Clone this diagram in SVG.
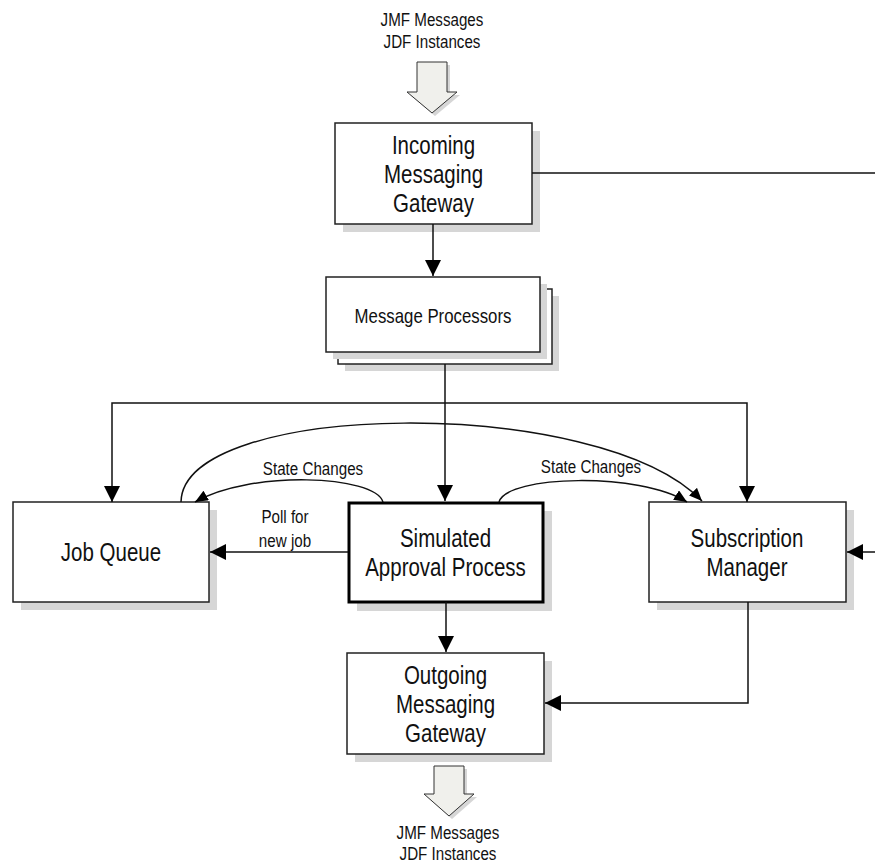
<svg xmlns="http://www.w3.org/2000/svg" width="875" height="864" viewBox="0 0 875 864">
  <defs>
    <marker id="arrow" markerUnits="userSpaceOnUse" viewBox="0 0 16 16" refX="16" refY="8" markerWidth="16" markerHeight="16" orient="auto">
      <path d="M0,0 L16,8 L0,16 z" fill="#000"/>
    </marker>
    <marker id="arrow-small" markerUnits="userSpaceOnUse" viewBox="0 0 13 11" refX="13" refY="5.5" markerWidth="13" markerHeight="11" orient="auto">
      <path d="M0,0 L13,5.5 L0,11 z" fill="#000"/>
    </marker>
  </defs>
  <style>
    .box { fill: #fff; stroke: #222; stroke-width: 1.5; }
    .box-bold { fill: #fff; stroke: #000; stroke-width: 3; }
    .shadow { fill: #d6d6d6; }
    .wire { fill: none; stroke: #111; stroke-width: 1.5; }
    .block { fill: #f0f0ec; stroke: #333; stroke-width: 1; }
    text { font-family: "Liberation Sans", Arial, sans-serif; fill: #111; text-anchor: middle; }
    .node-text { font-size: 25px; }
    .mp-text { font-size: 20.5px; }
    .label { font-size: 18.5px; }
  </style>

  <!-- inbound messages (text is condensed horizontally to a narrow face) -->
  <g id="inbound">
    <text class="label" transform="translate(432,26) scale(0.82,1)">JMF Messages</text>
    <text class="label" transform="translate(432,48) scale(0.82,1)">JDF Instances</text>
    <path class="shadow" d="M420,65 H450 V95 H460 L435,116 L410,95 H420 z"/>
    <path class="block" d="M417,62 H447 V92 H457 L432,113 L407,92 H417 z"/>
  </g>

  <g id="incoming-gateway">
    <rect class="shadow" x="343" y="131" width="197" height="101"/>
    <rect class="box" x="335" y="123" width="197" height="101"/>
    <text class="node-text" transform="translate(433.5,154) scale(0.82,1)">Incoming</text>
    <text class="node-text" transform="translate(433.5,183) scale(0.82,1)">Messaging</text>
    <text class="node-text" transform="translate(433.5,212) scale(0.82,1)">Gateway</text>
  </g>

  <g id="message-processors">
    <rect class="shadow" x="345" y="296" width="214" height="75"/>
    <rect class="box" x="338" y="289" width="214" height="75"/>
    <rect class="shadow" x="333" y="284" width="214" height="75"/>
    <rect class="box" x="326" y="277" width="214" height="75"/>
    <text class="mp-text" transform="translate(433,323) scale(0.82,1)">Message Processors</text>
  </g>

  <g id="job-queue">
    <rect class="shadow" x="21" y="510" width="196" height="100"/>
    <rect class="box" x="13" y="502" width="196" height="100"/>
    <text class="node-text" transform="translate(111,561) scale(0.82,1)">Job Queue</text>
  </g>

  <g id="simulated-approval">
    <rect class="shadow" x="357" y="511" width="195" height="100"/>
    <rect class="box-bold" x="349" y="503" width="194" height="99"/>
    <text class="node-text" transform="translate(445.5,547) scale(0.82,1)">Simulated</text>
    <text class="node-text" transform="translate(445.5,576) scale(0.82,1)">Approval Process</text>
  </g>

  <g id="subscription-manager">
    <rect class="shadow" x="657" y="510" width="197" height="100"/>
    <rect class="box" x="649" y="502" width="197" height="100"/>
    <text class="node-text" transform="translate(747,547) scale(0.82,1)">Subscription</text>
    <text class="node-text" transform="translate(747,576) scale(0.82,1)">Manager</text>
  </g>

  <g id="outgoing-gateway">
    <rect class="shadow" x="355" y="661" width="197" height="101"/>
    <rect class="box" x="347" y="653" width="197" height="101"/>
    <text class="node-text" transform="translate(445.5,684) scale(0.82,1)">Outgoing</text>
    <text class="node-text" transform="translate(445.5,713) scale(0.82,1)">Messaging</text>
    <text class="node-text" transform="translate(445.5,742) scale(0.82,1)">Gateway</text>
  </g>

  <!-- outbound messages -->
  <g id="outbound">
    <path class="shadow" d="M437,769 H467 V797 H477 L452,819 L427,797 H437 z"/>
    <path class="block" d="M434,766 H464 V794 H474 L449,816 L424,794 H434 z"/>
    <text class="label" transform="translate(448,839) scale(0.82,1)">JMF Messages</text>
    <text class="label" transform="translate(448,860) scale(0.82,1)">JDF Instances</text>
  </g>

  <!-- connectors, drawn over the node shadows -->
  <g id="connectors">
    <path class="wire" d="M532,173 H875"/>
    <path class="wire" d="M433,224 V276" marker-end="url(#arrow)"/>
    <path class="wire" d="M445,364 V501" marker-end="url(#arrow)"/>
    <path class="wire" d="M445,403 H112 V502" marker-end="url(#arrow)"/>
    <path class="wire" d="M445,403 H747 V502" marker-end="url(#arrow)"/>
    <path class="wire" d="M181,502 C183,400 600,394 702,501" marker-end="url(#arrow-small)"/>
    <path class="wire" d="M383,502 C375,475 250,470 195,502" marker-end="url(#arrow-small)"/>
    <path class="wire" d="M499,502 C507,475 640,472 687,502" marker-end="url(#arrow-small)"/>
    <path class="wire" d="M348,552 H210" marker-end="url(#arrow)"/>
    <path class="wire" d="M875,552 H847" marker-end="url(#arrow)"/>
    <path class="wire" d="M446,602 V652" marker-end="url(#arrow)"/>
    <path class="wire" d="M748,602 V703 H545" marker-end="url(#arrow)"/>
    <text class="label" transform="translate(313,475) scale(0.82,1)">State Changes</text>
    <text class="label" transform="translate(591,473) scale(0.82,1)">State Changes</text>
    <text class="label" transform="translate(285,523) scale(0.82,1)">Poll for</text>
    <text class="label" transform="translate(285,547) scale(0.82,1)">new job</text>
  </g>
</svg>
